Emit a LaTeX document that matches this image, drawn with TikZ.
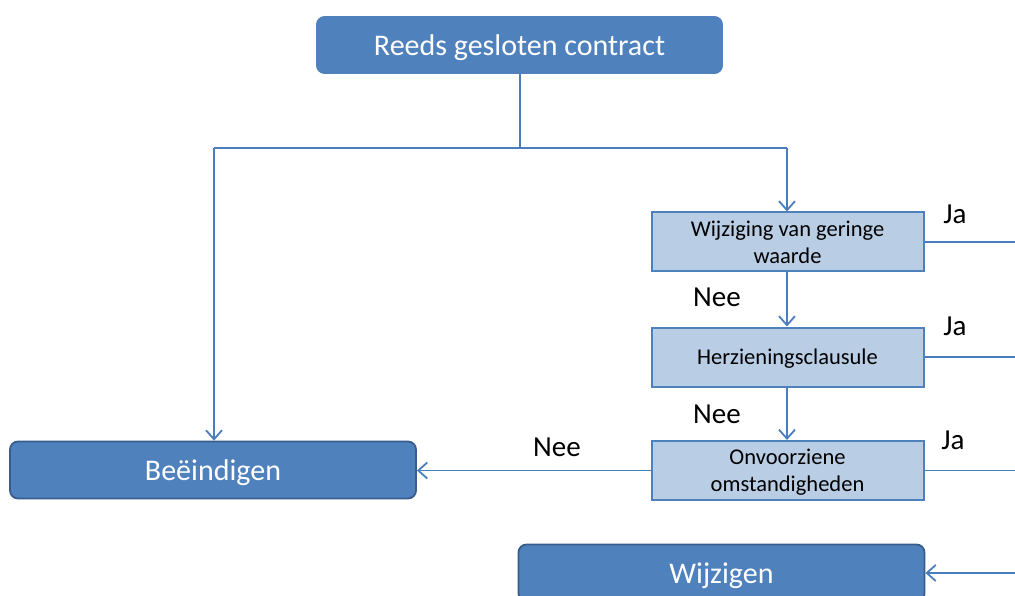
\documentclass[tikz,border=0pt]{standalone}
\usepackage{fontspec}
\setmainfont{Carlito}
\usetikzlibrary{arrows.meta}
\definecolor{accent}{HTML}{4F81BD}
\definecolor{accentdark}{HTML}{385D8A}
\definecolor{lightfill}{HTML}{B9CDE5}
\definecolor{linecol}{HTML}{4A7EBB}
\tikzset{
  mainbox/.style={draw=accentdark, line width=1.8pt, fill=accent, rounded corners=8pt,
    text=white, font=\fontsize{30}{33}\selectfont, minimum width=406pt, minimum height=57pt,
    inner sep=0pt, text depth=0pt},
  topbox/.style={mainbox, draw=accent, line width=0.8pt},
  testbox/.style={draw=accent, line width=2pt, fill=lightfill, text=black,
    font=\fontsize{22.5}{27}\selectfont, minimum width=272pt, minimum height=59pt,
    align=center, inner sep=0pt, text depth=0pt},
  conn/.style={draw=linecol, line width=1.8pt},
  arr/.style={conn, -{Straight Barb[length=9pt,width=16pt,line width=1.8pt]}},
  lbl/.style={font=\fontsize{29}{32}\selectfont, text=black, inner sep=0pt}
}
\begin{document}
\begin{tikzpicture}[x=1pt,y=-1pt]
\useasboundingbox (0,0) rectangle (1015,596);
\node[topbox] (top) at (519.5,45) {Reeds gesloten contract};
\node[testbox] (q1) at (787.5,242) {Wijziging van geringe\\waarde};
\node[testbox] (q2) at (787.5,357) {Herzieningsclausule};
\node[testbox] (q3) at (787.5,470.5) {Onvoorziene\\omstandigheden};
\node[mainbox] (end) at (213,470) {Beëindigen};
\node[mainbox] (mod) at (721.5,573) {Wijzigen};
\coordinate (split) at (520,148);
\coordinate (leftc) at (214,148);
\coordinate (rightc) at (787,148);
\coordinate (r1) at (1016,242);
\coordinate (r2) at (1016,357);
\coordinate (r3) at (1016,470.5);
\coordinate (r4) at (1016,573);
\draw[conn] (top.south -| split) -- (split);
\draw[conn] (leftc) -- (rightc);
\draw[arr] (leftc) -- (end.north -| leftc);
\draw[arr] (rightc) -- (q1.north -| rightc);
\draw[arr] (q1.south -| rightc) -- (q2.north -| rightc);
\draw[arr] (q2.south -| rightc) -- (q3.north -| rightc);
\draw[arr] (q3.west) -- (end.east |- q3.west);
\draw[conn] (q1.east) -- (r1);
\draw[conn] (q2.east) -- (r2);
\draw[conn] (q3.east) -- (r3);
\draw[arr] (r4) -- (mod.east |- r4);
\node[lbl] (ja1) at (955,214) {Ja};
\node[lbl] (ja2) at (955,326) {Ja};
\node[lbl] (ja3) at (953,440) {Ja};
\node[lbl] (nee1) at (717,297) {Nee};
\node[lbl] (nee2) at (717,414) {Nee};
\node[lbl] (nee3) at (557,447) {Nee};
\end{tikzpicture}
\end{document}
